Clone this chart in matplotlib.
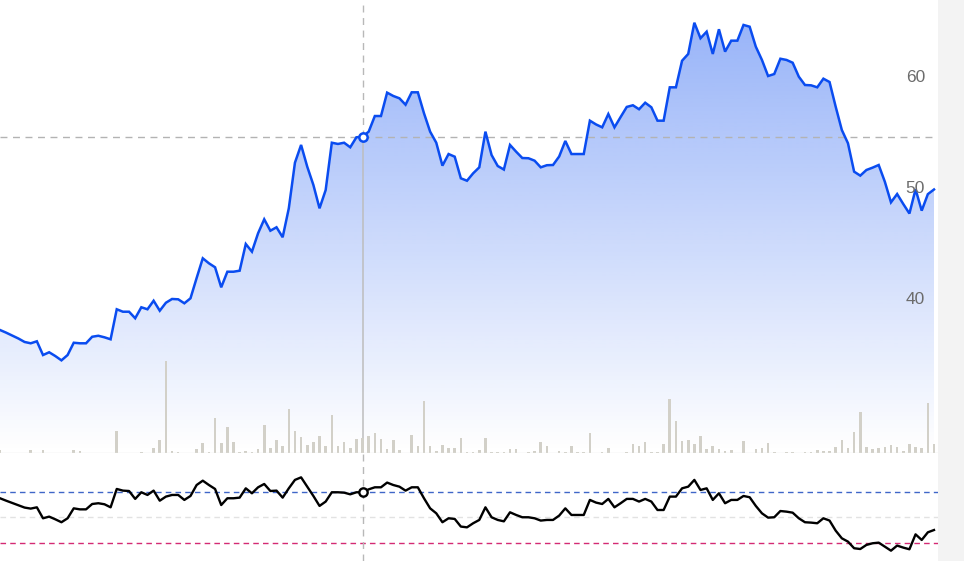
import numpy as np
import matplotlib
matplotlib.use("Agg")
import matplotlib.pyplot as plt
from matplotlib.patches import Rectangle, Polygon
from matplotlib.colors import to_rgb

# ---------------- data ----------------
price = [37.23, 36.99, 36.73, 36.46, 36.15, 36.03, 36.21, 34.97, 35.22, 34.88,
         34.49, 34.97, 36.08, 36.03, 36.03, 36.62, 36.71, 36.57, 36.39, 39.10,
         38.88, 38.88, 38.29, 39.28, 39.10, 39.87, 38.97, 39.69, 40.03, 40.00,
         39.64, 40.09, 41.92, 43.70, 43.25, 42.89, 41.08, 42.49, 42.49, 42.58,
         44.99, 44.30, 45.96, 47.22, 46.19, 46.50, 45.60, 48.21, 52.33, 53.93,
         51.97, 50.32, 48.21, 49.86, 54.13, 54.02, 54.13, 53.72, 54.62, 54.68,
         55.13, 56.54, 56.54, 58.65, 58.35, 58.14, 57.56, 58.68, 58.68, 56.79,
         55.13, 54.13, 52.06, 53.11, 52.87, 50.92, 50.70, 51.37, 51.91, 55.13,
         53.02, 52.03, 51.71, 53.93, 53.32, 52.75, 52.73, 52.51, 51.91, 52.10,
         52.12, 52.89, 54.29, 53.11, 53.11, 53.11, 56.12, 55.78, 55.52, 56.72,
         55.52, 56.45, 57.36, 57.51, 57.15, 57.74, 57.33, 56.12, 56.12, 59.13,
         59.13, 61.53, 62.14, 64.96, 63.56, 64.15, 62.14, 64.37, 62.35, 63.34,
         63.34, 64.76, 64.60, 62.80, 61.60, 60.15, 60.33, 61.71, 61.60, 61.35,
         60.09, 59.34, 59.31, 59.13, 59.91, 59.61, 57.38, 55.28, 54.08, 51.52,
         51.16, 51.67, 51.88, 52.12, 50.61, 48.75, 49.50, 48.60, 47.74, 49.93,
         48.00, 49.49, 49.91]

volume = [0.3, 0, 0, 0, 0, 0.3, 0, 0.3, 0, 0,
          0, 0, 0.3, 0.2, 0, 0, 0, 0, 0.05, 2.2,
          0, 0, 0, 0.1, 0, 0.5, 1.3, 9.2, 0.2, 0.1,
          0, 0, 0.4, 1.0, 0.1, 3.5, 1.0, 2.6, 1.1, 0.1,
          0.2, 0.1, 0.4, 2.8, 0.5, 1.3, 0.7, 4.4, 2.2, 1.6,
          0.85, 1.1, 1.7, 0.7, 3.8, 0.7, 1.1, 0.5, 1.4, 1.5,
          1.7, 2.0, 1.4, 0.4, 1.3, 0.3, 0, 1.85, 0.7, 5.2,
          0.7, 0.25, 0.8, 0.5, 0.5, 1.55, 0.1, 0.1, 0.3, 1.5,
          0.1, 0.1, 0.1, 0.4, 0.4, 0, 0.15, 0.25, 1.1, 0.7,
          0, 0.2, 0.1, 0.7, 0.1, 0.1, 2.0, 0, 0.1, 0.5,
          0, 0, 0.1, 0.9, 0.7, 1.1, 0.1, 0.1, 0.9, 5.4,
          3.2, 1.2, 1.35, 0.9, 1.7, 0.45, 0.75, 0.4, 0.25, 0.3,
          0, 1.2, 0, 0.4, 0.5, 1.0, 0.1, 0, 0.1, 0.1,
          0, 0.1, 0.1, 0.3, 0.2, 0.2, 0.6, 1.35, 0.5, 2.15,
          4.1, 0.6, 0.4, 0.5, 0.6, 0.8, 0.65, 0.2, 0.9, 0.6,
          0.5, 5.0, 0.9]

rsi = [64.9, 63.0, 61.2, 59.4, 57.6, 56.8, 57.8, 49.2, 50.5, 48.4,
       46.1, 49.2, 57.0, 56.2, 56.2, 60.4, 61.0, 60.2, 57.8, 72.2,
       70.9, 70.6, 64.4, 69.6, 67.5, 70.9, 63.0, 66.2, 67.5, 67.5,
       63.6, 66.7, 75.3, 78.7, 75.3, 72.2, 59.6, 64.9, 64.9, 65.4,
       72.7, 68.8, 73.5, 76.1, 70.6, 70.9, 65.4, 72.7, 79.3, 81.3,
       74.0, 66.7, 58.9, 62.3, 69.6, 69.6, 69.3, 68.0, 69.6, 69.6,
       71.9, 73.5, 73.5, 77.2, 75.3, 74.0, 70.9, 73.5, 73.5, 64.9,
       57.0, 53.1, 46.1, 49.2, 48.7, 42.7, 42.1, 45.3, 47.9, 57.8,
       50.0, 47.9, 46.8, 53.9, 51.8, 50.0, 50.0, 49.2, 47.4, 47.9,
       47.9, 51.3, 57.0, 51.8, 51.8, 51.8, 63.6, 61.5, 60.4, 64.4,
       57.8, 61.0, 64.4, 64.4, 62.3, 64.4, 62.3, 55.7, 55.7, 66.2,
       66.2, 72.7, 74.0, 79.3, 71.4, 72.7, 63.6, 68.8, 61.0, 63.6,
       63.6, 66.7, 65.7, 58.9, 53.1, 49.7, 50.0, 54.9, 54.4, 53.6,
       49.2, 46.1, 45.8, 45.3, 49.2, 47.4, 39.5, 33.5, 30.9, 25.7,
       25.1, 28.3, 29.6, 30.1, 27.0, 23.8, 27.8, 26.2, 24.9, 36.6,
       32.2, 38.2, 40.0]

price_ticks = [40, 50, 60]
rsi_upper, rsi_mid, rsi_lower = 70, 50, 30
hover_index = 59

# ---------------- figure ----------------
W, H = 964, 561
fig = plt.figure(figsize=(W / 100, H / 100), dpi=100)
fig.patch.set_facecolor("white")
fig.patches.append(Rectangle((938 / W, 0), 26 / W, 1, transform=fig.transFigure,
                             facecolor="#f3f3f3", edgecolor="none", zorder=0))

main_h = 453
ax = fig.add_axes([0, (H - main_h) / H, 938 / W, main_h / H])
axv = ax.twinx()
ax2 = fig.add_axes([0, 0, 938 / W, (H - main_h) / H])
for a in (ax, axv, ax2):
    a.set_axis_off()
ax.patch.set_alpha(0)
ax2.patch.set_alpha(0)

n = len(price)
x = np.arange(n)
xmax = (n - 1) * 938 / 934
ymin, ymax = 26.13, 67.01
line_color = "#0a4cf0"

# gradient area fill
grad = np.zeros((256, 1, 4))
grad[:, :, :3] = to_rgb(line_color)
grad[:, 0, 3] = np.linspace(0.0, 0.42, 256)
im = ax.imshow(grad, extent=[0, n - 1, ymin, max(price)], origin="lower",
               aspect="auto", zorder=1, interpolation="bilinear")
poly = Polygon(list(zip(x, price)) + [(n - 1, ymin), (0, ymin)], closed=True,
               facecolor="none", edgecolor="none")
ax.add_patch(poly)
im.set_clip_path(poly)

# crosshair
hp = price[hover_index]
ax.axhline(hp, color="#b3b3b3", lw=1, dashes=(5, 4), zorder=2)
ax.plot([hover_index, hover_index], [hp, ymax], color="#b8b8b8", lw=1,
        dashes=(5, 4), zorder=2)
ax.plot([hover_index, hover_index], [ymin, hp], color="#bdbdbd", lw=1.1, zorder=2)

ax.plot(x, price, color=line_color, lw=1.8, zorder=3, solid_joinstyle="miter")
ax.plot([hover_index], [hp], marker="o", ms=6, mfc="white", mec=line_color,
        mew=1.8, zorder=4)

for t in price_ticks:
    ax.text(925 / 938, t, str(t), transform=ax.get_yaxis_transform(),
            ha="right", va="center", fontsize=12.5, color="#6c6c6c",
            family="Liberation Sans", zorder=5)

ax.set_xlim(0, xmax)
ax.set_ylim(ymin, ymax)

# volume
axv.bar(x, volume, width=0.42, color="#d2d0c8", zorder=2)
axv.set_ylim(0, main_h / 10)
axv.set_xlim(0, xmax)
axv.axhline(0, color="#e6e6e6", lw=1)

# lower panel
ax2.axhline(rsi_upper, color="#3f66c8", lw=1, dashes=(4, 3))
ax2.axhline(rsi_mid, color="#e2e2e2", lw=1, dashes=(4, 3))
ax2.axhline(rsi_lower, color="#d42a74", lw=1, dashes=(4, 3))
ax2.axvline(hover_index, color="#b8b8b8", lw=1, dashes=(5, 4))
ax2.plot(x, rsi, color="black", lw=1.7, zorder=3)
ax2.plot([hover_index], [rsi[hover_index]], marker="o", ms=6, mfc="white",
         mec="black", mew=1.7, zorder=4)
ax2.set_xlim(0, xmax)
ax2.set_ylim(15.7, 100.4)

fig.savefig("out.png", dpi=100)
